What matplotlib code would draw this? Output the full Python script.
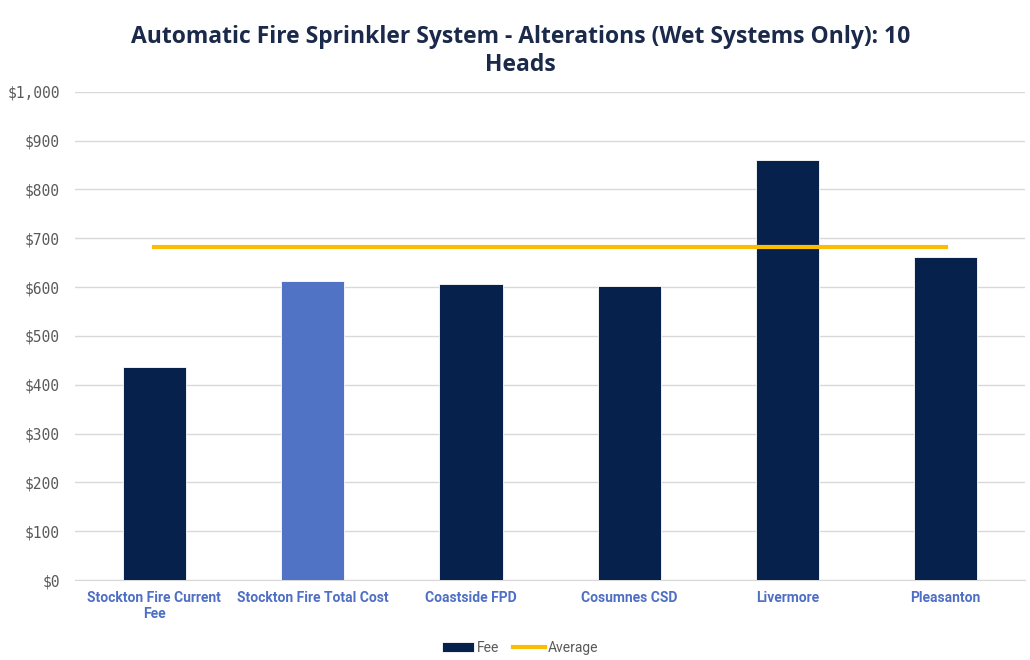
import matplotlib.pyplot as plt
from matplotlib.ticker import FuncFormatter

# --- dados ---
categories = ["Stockton Fire Current\nFee", "Stockton Fire Total Cost", "Coastside FPD",
              "Cosumnes CSD", "Livermore", "Pleasanton"]
fees = [436, 613, 606, 603, 861, 661]
average = [683, 683, 683, 683, 683, 683]
bar_colors = ["#06224c", "#5073c6", "#06224c", "#06224c", "#06224c", "#06224c"]

NAVY = "#06224c"
GOLD = "#fbbc04"
GRID = "#d9d9d9"

fig = plt.figure(figsize=(10.3, 6.6), dpi=100)
ax = fig.add_axes([0.073, 0.121, 0.922, 0.740])

x = list(range(len(categories)))
bars = ax.bar(x, fees, width=0.4, color=bar_colors, edgecolor="white", linewidth=0.6,
              label="Fee", zorder=3)
line, = ax.plot(x, average, color=GOLD, linewidth=3, label="Average", zorder=4)

ax.set_xlim(-0.5, 5.5)
ax.set_ylim(0, 1000)
ax.set_yticks(range(0, 1001, 100))
ax.yaxis.set_major_formatter(FuncFormatter(lambda v, p: f"${v:,.0f}"))
ax.grid(True, axis="y", color=GRID, linewidth=1, zorder=0)

for s in ["top", "right", "left"]:
    ax.spines[s].set_visible(False)
ax.spines["bottom"].set_color(GRID)
ax.tick_params(axis="both", length=0)
ax.tick_params(axis="y", pad=11)
ax.tick_params(axis="x", pad=8)

ax.set_xticks(x)
ax.set_xticklabels(categories, fontsize=10, color="#4f6fc4", fontweight="bold",
                   family="Roboto")
for lbl in ax.get_yticklabels():
    lbl.set_family("DejaVu Sans Mono")
    lbl.set_fontsize(10.5)
    lbl.set_color("#595959")

fig.text(0.505, 0.923, "Automatic Fire Sprinkler System - Alterations (Wet Systems Only): 10\nHeads",
         ha="center", va="center", fontsize=16.5, fontweight="bold", color="#1b2a4a",
         family="Open Sans", linespacing=1.2)

leg = fig.legend([bars, line], ["Fee", "Average"], loc="center",
                 bbox_to_anchor=(0.505, 0.018), ncol=2, frameon=False,
                 fontsize=10, handlelength=2.3, handletextpad=0.2, columnspacing=1.0)
for t in leg.get_texts():
    t.set_color("#595959")
    t.set_family("Roboto")

fig.savefig("out.png", dpi=100)
